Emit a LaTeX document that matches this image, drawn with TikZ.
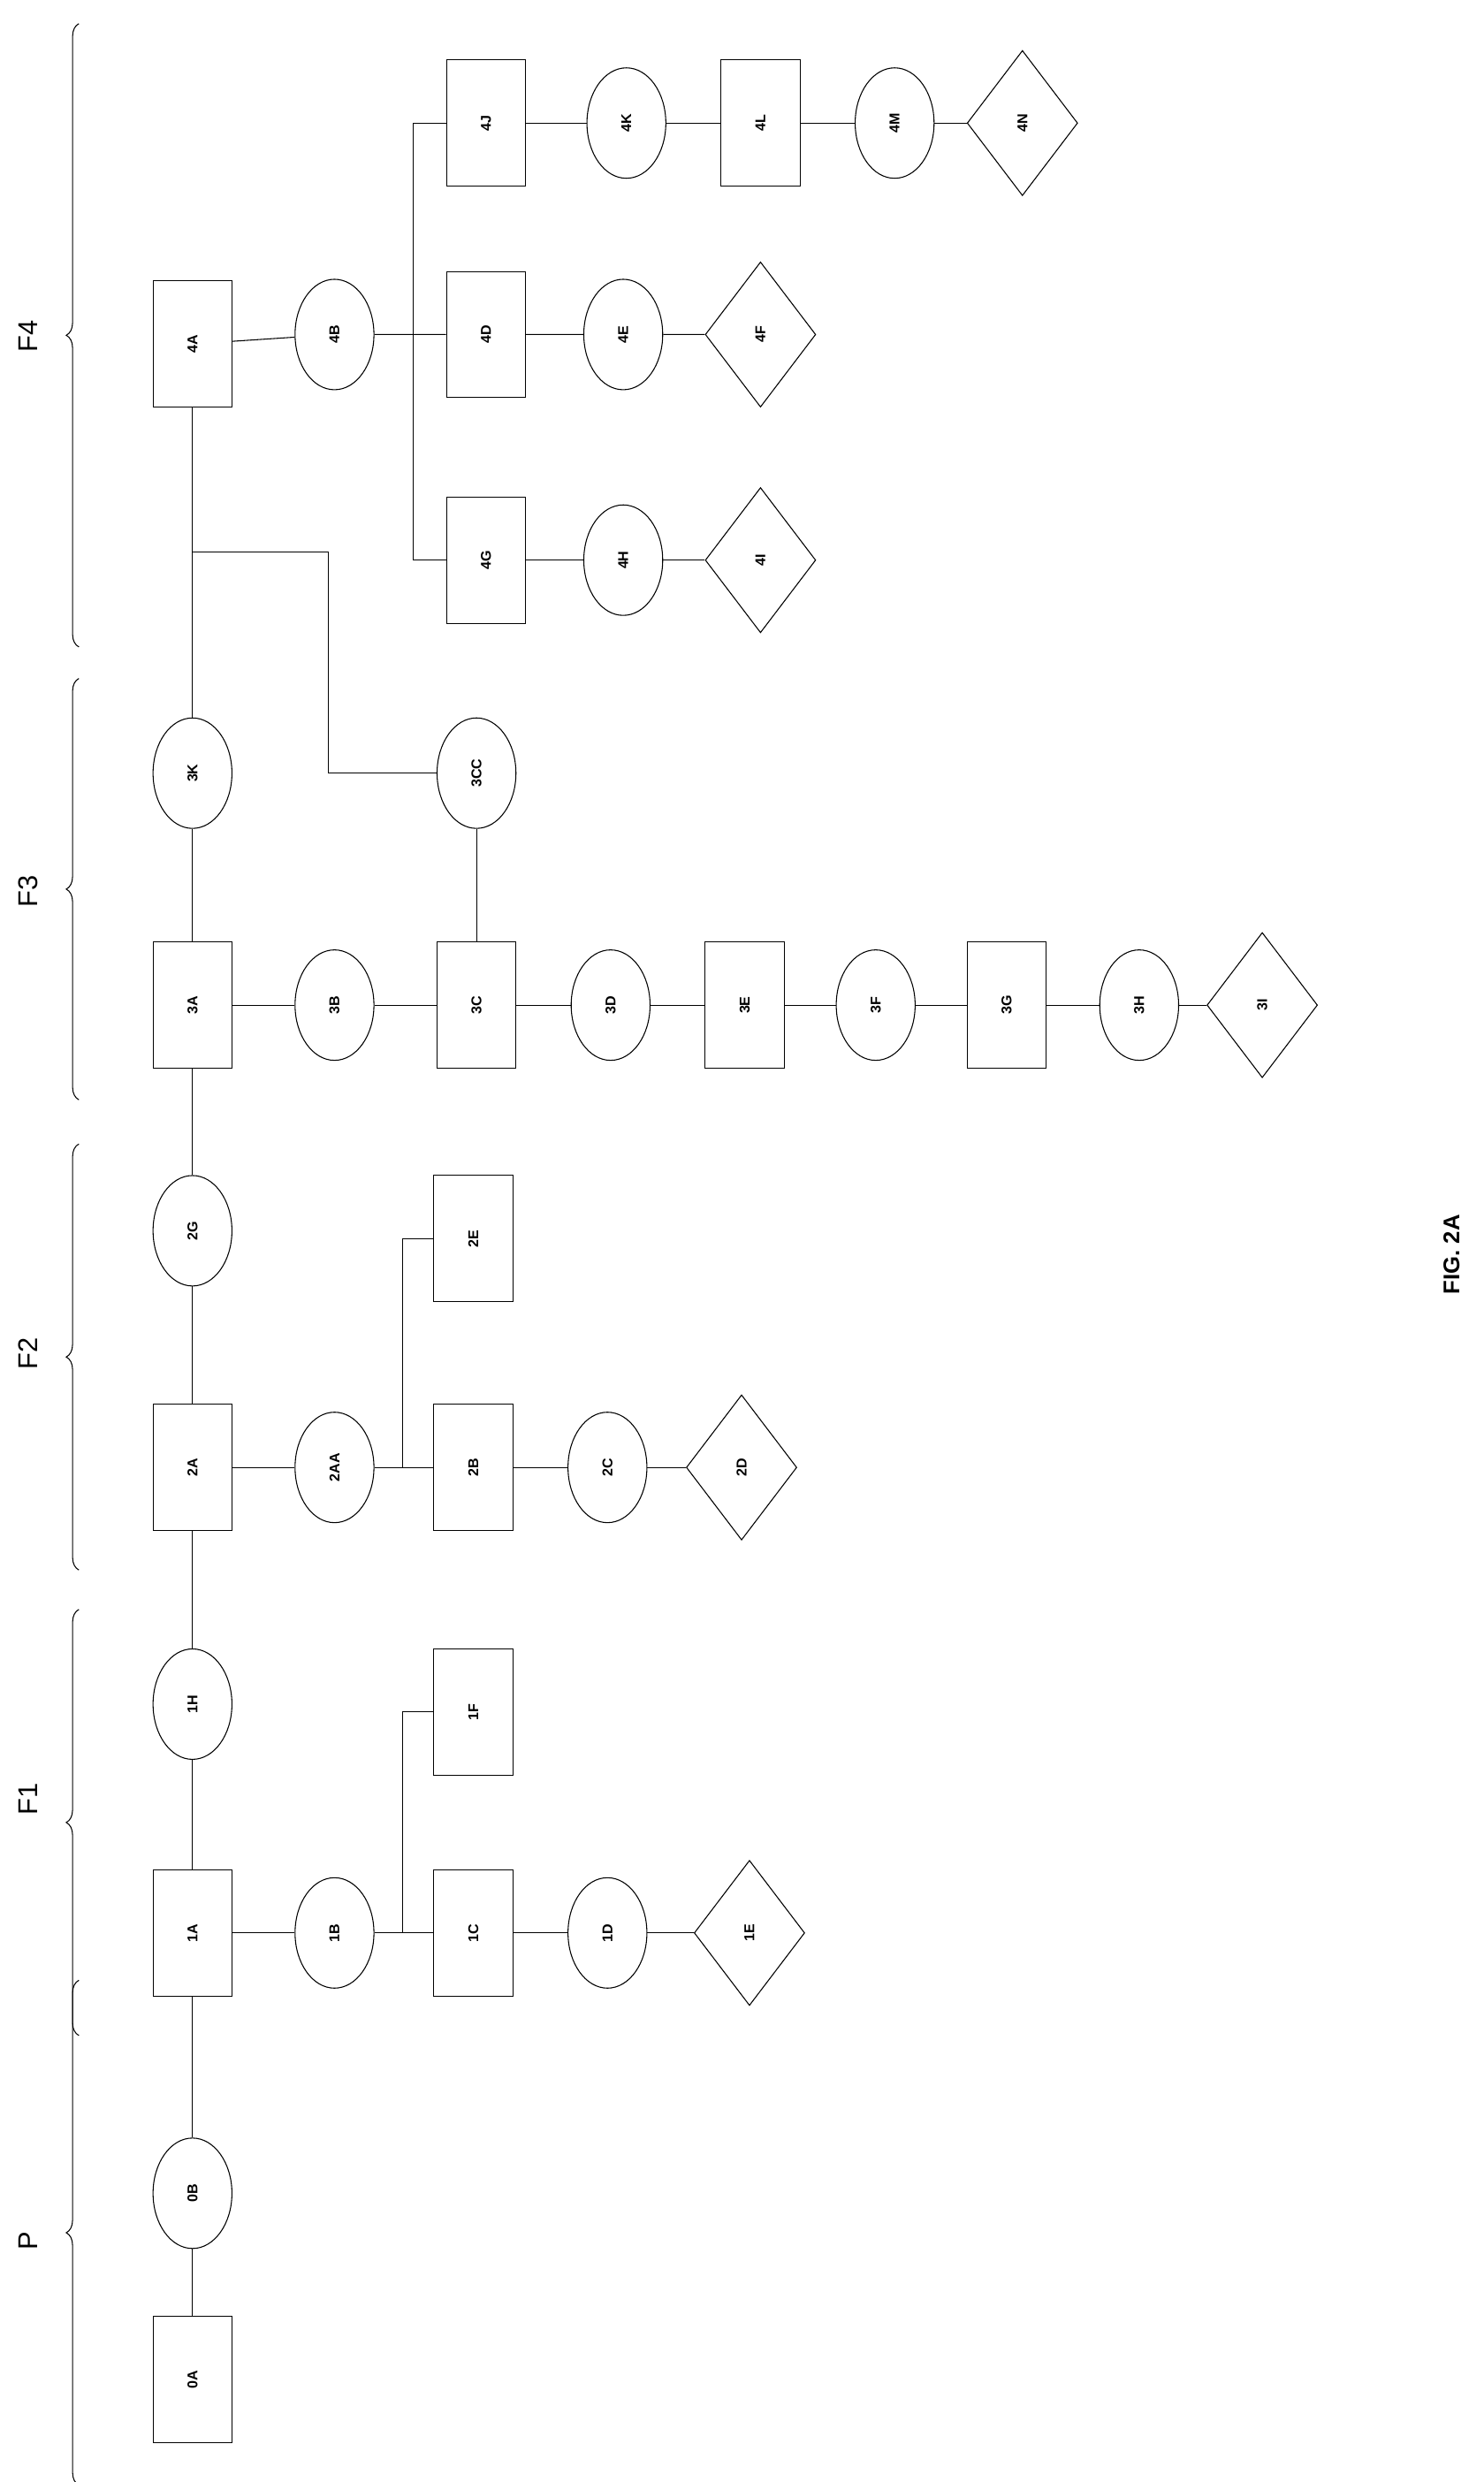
\documentclass[tikz,border=0pt]{standalone}
\usepackage{fontspec}
\setmainfont{Liberation Sans}
\usetikzlibrary{shapes.geometric,decorations.pathreplacing}
\tikzset{
  box/.style={draw, rectangle, minimum width=50pt, minimum height=80pt, inner sep=0pt, font=\small\bfseries},
  oval/.style={draw, ellipse, minimum width=50pt, minimum height=70pt, inner sep=0pt, font=\small\bfseries},
  dia/.style={draw, diamond, minimum width=70pt, minimum height=92pt, inner sep=0pt, font=\small\bfseries},
  lbl/.style={rotate=90, font=\LARGE},
  grp/.style={decorate, decoration={brace, amplitude=8pt}, line width=0.6pt}
}
\begin{document}
\begin{tikzpicture}[x=1pt,y=-1pt,line width=0.6pt]
  \useasboundingbox (0,0) rectangle (940,1573);

  % main column
  \node [box] (0A) at (122,1508) {\rotatebox{90}{0A}};
  \node [oval] (0B) at (122,1390) {\rotatebox{90}{0B}};
  \node [box] (1A) at (122,1225) {\rotatebox{90}{1A}};
  \node [oval] (1H) at (122,1080) {\rotatebox{90}{1H}};
  \node [box] (2A) at (122,930) {\rotatebox{90}{2A}};
  \node [oval] (2G) at (122,780) {\rotatebox{90}{2G}};
  \node [box] (3A) at (122,637) {\rotatebox{90}{3A}};
  \node [oval] (3K) at (122,490) {\rotatebox{90}{3K}};
  \node [box] (4A) at (122,218) {\rotatebox{90}{4A}};

  % F1
  \node [oval] (1B) at (212,1225) {\rotatebox{90}{1B}};
  \node [box] (1C) at (300,1225) {\rotatebox{90}{1C}};
  \node [oval] (1D) at (385,1225) {\rotatebox{90}{1D}};
  \node [dia] (1E) at (475,1225) {\rotatebox{90}{1E}};
  \node [box] (1F) at (300,1085) {\rotatebox{90}{1F}};
  \coordinate (1br) at (255,1225);

  % F2
  \node [oval] (2AA) at (212,930) {\rotatebox{90}{2AA}};
  \node [box] (2B) at (300,930) {\rotatebox{90}{2B}};
  \node [oval] (2C) at (385,930) {\rotatebox{90}{2C}};
  \node [dia] (2D) at (470,930) {\rotatebox{90}{2D}};
  \node [box] (2E) at (300,785) {\rotatebox{90}{2E}};
  \coordinate (2br) at (255,930);

  % F3
  \node [oval] (3B) at (212,637) {\rotatebox{90}{3B}};
  \node [box] (3C) at (302,637) {\rotatebox{90}{3C}};
  \node [oval] (3D) at (387,637) {\rotatebox{90}{3D}};
  \node [box] (3E) at (472,637) {\rotatebox{90}{3E}};
  \node [oval] (3F) at (555,637) {\rotatebox{90}{3F}};
  \node [box] (3G) at (638,637) {\rotatebox{90}{3G}};
  \node [oval] (3H) at (722,637) {\rotatebox{90}{3H}};
  \node [dia] (3I) at (800,637) {\rotatebox{90}{3I}};
  \node [oval] (3CC) at (302,490) {\rotatebox{90}{3CC}};
  \coordinate (3cl) at (208,490);
  \coordinate (3ct) at (208,350);
  \coordinate (3cm) at (122,350);

  % F4
  \node [oval] (4B) at (212,212) {\rotatebox{90}{4B}};
  \node [box] (4D) at (308,212) {\rotatebox{90}{4D}};
  \node [oval] (4E) at (395,212) {\rotatebox{90}{4E}};
  \node [dia] (4F) at (482,212) {\rotatebox{90}{4F}};
  \node [box] (4G) at (308,355) {\rotatebox{90}{4G}};
  \node [oval] (4H) at (395,355) {\rotatebox{90}{4H}};
  \node [dia] (4I) at (482,355) {\rotatebox{90}{4I}};
  \node [box] (4J) at (308,78) {\rotatebox{90}{4J}};
  \node [oval] (4K) at (397,78) {\rotatebox{90}{4K}};
  \node [box] (4L) at (482,78) {\rotatebox{90}{4L}};
  \node [oval] (4M) at (567,78) {\rotatebox{90}{4M}};
  \node [dia] (4N) at (648,78) {\rotatebox{90}{4N}};
  \coordinate (4br) at (262,212);
  \coordinate (4bt) at (262,78);
  \coordinate (4bb) at (262,355);

  \draw (0A) -- (0B) -- (1A) -- (1H) -- (2A) -- (2G) -- (3A) -- (3K) -- (4A);
  \draw (1A) -- (1B) -- (1C) -- (1D) -- (1E);
  \draw (1br) |- (1F.west);
  \draw (2A) -- (2AA) -- (2B) -- (2C) -- (2D);
  \draw (2br) |- (2E.west);
  \draw (3A) -- (3B) -- (3C) -- (3D) -- (3E) -- (3F) -- (3G) -- (3H) -- (3I);
  \draw (3C) -- (3CC);
  \draw (3CC.west) -- (3cl) -- (3ct) -- (3cm);
  \draw (4A) -- (4B) -- (4D) -- (4E) -- (4F);
  \draw (4G) -- (4H) -- (4I);
  \draw (4J) -- (4K) -- (4L) -- (4M) -- (4N);
  \draw (4bt) -- (4bb);
  \draw (4bt) -- (4J.west);
  \draw (4bb) -- (4G.west);

  % groups
  \draw [grp] (50,1575) -- (50,1255);
  \draw [grp] (50,1290) -- (50,1020);
  \draw [grp] (50,995) -- (50,725);
  \draw [grp] (50,697) -- (50,430);
  \draw [grp] (50,410) -- (50,15);
  \node [lbl] (P) at (18,1420) {P};
  \node [lbl] (F1) at (18,1140) {F1};
  \node [lbl] (F2) at (18,858) {F2};
  \node [lbl] (F3) at (18,565) {F3};
  \node [lbl] (F4) at (18,213) {F4};

  \node [rotate=90, font=\Large\bfseries] (fig) at (920,795) {FIG. 2A};
\end{tikzpicture}
\end{document}
